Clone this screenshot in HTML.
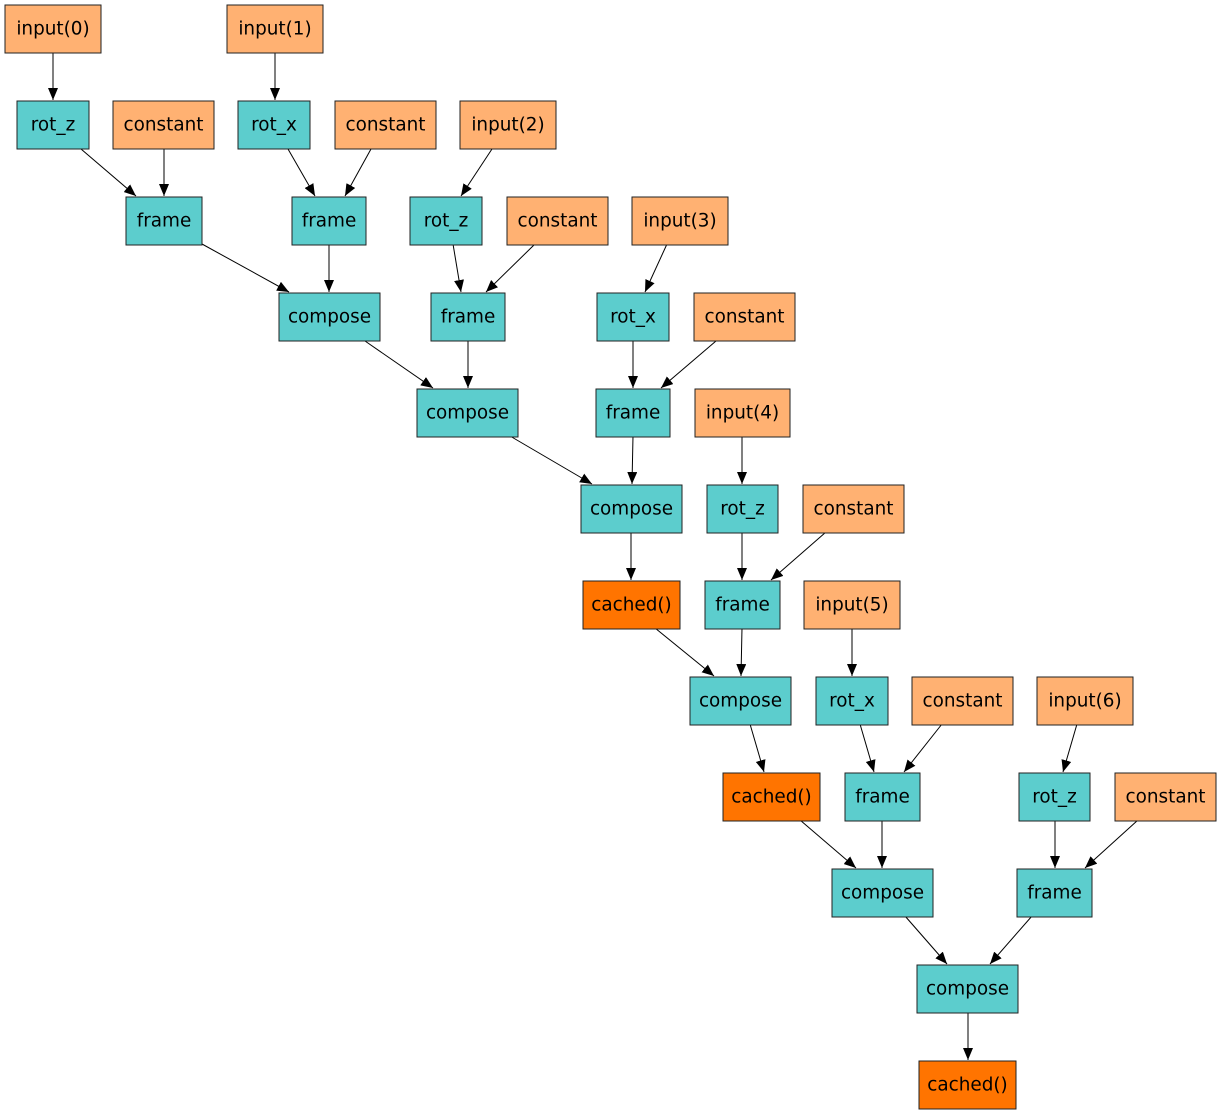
<!DOCTYPE html>
<html><head><meta charset="utf-8"><style>
html,body{margin:0;padding:0;background:#fff}
svg{display:block}
text{font-family:"DejaVu Sans","Liberation Sans",sans-serif;font-size:18.4px;text-anchor:middle;dominant-baseline:central;fill:#000}
.t{fill:#5ccdcd;stroke:#222;stroke-width:1}
.o{fill:#ffb172;stroke:#222;stroke-width:1}
.c{fill:#ff7400;stroke:#222;stroke-width:1}
line{stroke:#000;stroke-width:1}
</style></head><body>
<svg width="1221" height="1115" viewBox="0 0 1221 1115" xmlns="http://www.w3.org/2000/svg">
<defs><marker id="a" markerWidth="12" markerHeight="10" refX="12" refY="5" orient="auto" markerUnits="userSpaceOnUse"><path d="M0,0 L12,5 L0,10 z" fill="#000"/></marker></defs>
<g marker-end="url(#a)">
<line x1="53" y1="53" x2="53" y2="100"/>
<line x1="275" y1="53" x2="275" y2="100"/>
<line x1="81" y1="149" x2="136" y2="196"/>
<line x1="164" y1="149" x2="164" y2="196"/>
<line x1="288" y1="149" x2="315" y2="196"/>
<line x1="371" y1="149" x2="345" y2="196"/>
<line x1="492" y1="149" x2="461" y2="196"/>
<line x1="202" y1="244" x2="289" y2="292"/>
<line x1="329" y1="244" x2="329" y2="292"/>
<line x1="453" y1="244" x2="461" y2="292"/>
<line x1="535" y1="244" x2="486" y2="292"/>
<line x1="667" y1="244" x2="645" y2="292"/>
<line x1="365" y1="341" x2="433" y2="388"/>
<line x1="468" y1="341" x2="468" y2="388"/>
<line x1="633" y1="341" x2="633" y2="388"/>
<line x1="716" y1="341" x2="661" y2="388"/>
<line x1="510" y1="436" x2="592" y2="484"/>
<line x1="633" y1="436" x2="632" y2="484"/>
<line x1="742" y1="436" x2="742" y2="484"/>
<line x1="631" y1="532" x2="631" y2="580"/>
<line x1="742" y1="532" x2="742" y2="580"/>
<line x1="826" y1="532" x2="771" y2="580"/>
<line x1="655" y1="628" x2="714" y2="676"/>
<line x1="742" y1="628" x2="741" y2="676"/>
<line x1="852" y1="628" x2="852" y2="676"/>
<line x1="750" y1="724" x2="764" y2="772"/>
<line x1="860" y1="724" x2="874" y2="772"/>
<line x1="942" y1="724" x2="904" y2="772"/>
<line x1="1077" y1="724" x2="1063" y2="772"/>
<line x1="800" y1="820" x2="856" y2="868"/>
<line x1="882" y1="820" x2="882" y2="868"/>
<line x1="1055" y1="820" x2="1055" y2="868"/>
<line x1="1138" y1="820" x2="1085" y2="868"/>
<line x1="905" y1="916" x2="947" y2="964"/>
<line x1="1032" y1="916" x2="990" y2="964"/>
<line x1="968" y1="1012" x2="968" y2="1060"/>
</g>
<g>
<rect class="o" x="5" y="5" width="96" height="48"/><text x="53" y="29">input(0)</text>
<rect class="o" x="227" y="5" width="96" height="48"/><text x="275" y="29">input(1)</text>

<rect class="t" x="17" y="101" width="72" height="48"/><text x="53" y="125">rot_z</text>
<rect class="o" x="113" y="101" width="101" height="48"/><text x="163.5" y="125">constant</text>
<rect class="t" x="238" y="101" width="72" height="48"/><text x="274" y="125">rot_x</text>
<rect class="o" x="335" y="101" width="101" height="48"/><text x="385.5" y="125">constant</text>
<rect class="o" x="460" y="101" width="96" height="48"/><text x="508" y="125">input(2)</text>

<rect class="t" x="126" y="197" width="76" height="48"/><text x="164" y="221">frame</text>
<rect class="t" x="292" y="197" width="74" height="48"/><text x="329" y="221">frame</text>
<rect class="t" x="410" y="197" width="72" height="48"/><text x="446" y="221">rot_z</text>
<rect class="o" x="507" y="197" width="101" height="48"/><text x="557.5" y="221">constant</text>
<rect class="o" x="632" y="197" width="96" height="48"/><text x="680" y="221">input(3)</text>

<rect class="t" x="279" y="293" width="101" height="48"/><text x="329.5" y="317">compose</text>
<rect class="t" x="431" y="293" width="74" height="48"/><text x="468" y="317">frame</text>
<rect class="t" x="597" y="293" width="72" height="48"/><text x="633" y="317">rot_x</text>
<rect class="o" x="694" y="293" width="101" height="48"/><text x="744.5" y="317">constant</text>

<rect class="t" x="417" y="389" width="101" height="48"/><text x="467.5" y="413">compose</text>
<rect class="t" x="596" y="389" width="74" height="48"/><text x="633" y="413">frame</text>
<rect class="o" x="695" y="389" width="95" height="48"/><text x="742.5" y="413">input(4)</text>

<rect class="t" x="581" y="485" width="101" height="48"/><text x="631.5" y="509">compose</text>
<rect class="t" x="707" y="485" width="71" height="48"/><text x="742.5" y="509">rot_z</text>
<rect class="o" x="803" y="485" width="101" height="48"/><text x="853.5" y="509">constant</text>

<rect class="c" x="583" y="581" width="97" height="48"/><text x="631.5" y="605">cached()</text>
<rect class="t" x="705" y="581" width="75" height="48"/><text x="742.5" y="605">frame</text>
<rect class="o" x="804" y="581" width="96" height="48"/><text x="852" y="605">input(5)</text>

<rect class="t" x="690" y="677" width="101" height="48"/><text x="740.5" y="701">compose</text>
<rect class="t" x="816" y="677" width="72" height="48"/><text x="852" y="701">rot_x</text>
<rect class="o" x="912" y="677" width="101" height="48"/><text x="962.5" y="701">constant</text>
<rect class="o" x="1037" y="677" width="96" height="48"/><text x="1085" y="701">input(6)</text>

<rect class="c" x="723" y="773" width="97" height="48"/><text x="771.5" y="797">cached()</text>
<rect class="t" x="845" y="773" width="75" height="48"/><text x="882.5" y="797">frame</text>
<rect class="t" x="1019" y="773" width="71" height="48"/><text x="1054.5" y="797">rot_z</text>
<rect class="o" x="1115" y="773" width="101" height="48"/><text x="1165.5" y="797">constant</text>

<rect class="t" x="832" y="869" width="101" height="48"/><text x="882.5" y="893">compose</text>
<rect class="t" x="1017" y="869" width="75" height="48"/><text x="1054.5" y="893">frame</text>

<rect class="t" x="917" y="965" width="101" height="48"/><text x="967.5" y="989">compose</text>

<rect class="c" x="919" y="1061" width="97" height="48"/><text x="967.5" y="1085">cached()</text>
</g>
</svg>
</body></html>
